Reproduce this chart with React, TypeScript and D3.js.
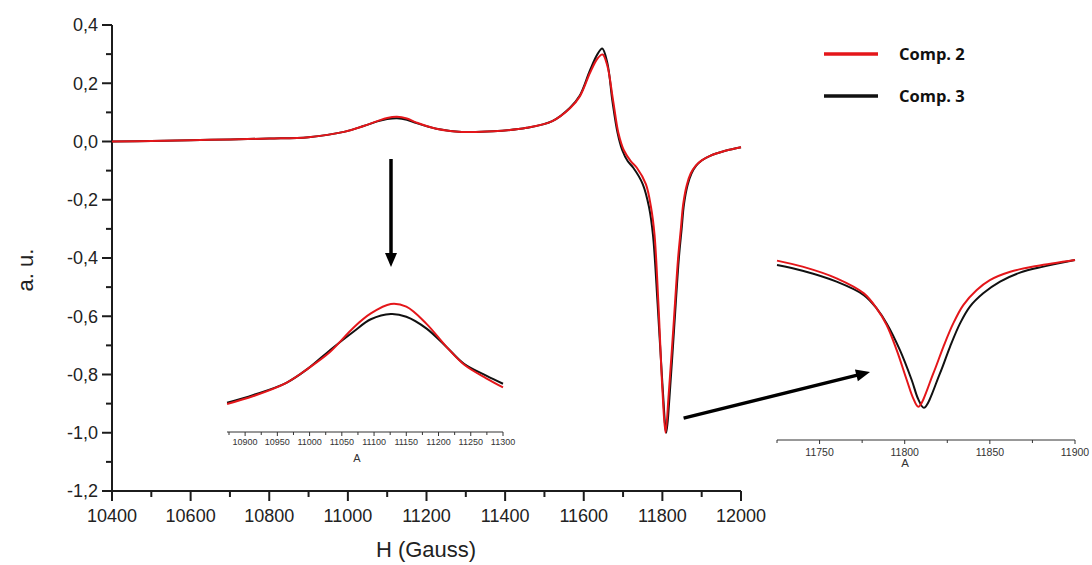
import React from "react";
import * as d3 from "d3";

// Field sweep (Gauss) and derivative signal (a.u.) for the two components
const mainField = [10400, 10500, 10650, 10800, 10900, 10990, 11040, 11075, 11100, 11125, 11150, 11175, 11225, 11290, 11370, 11455, 11520, 11565, 11590, 11616, 11635, 11648, 11660, 11675, 11688, 11702, 11720, 11735, 11758, 11771, 11780, 11790, 11800, 11808, 11816, 11828, 11840, 11847, 11853, 11862, 11872, 11885, 11900, 11920, 11960, 12000];
const comp2Main = [0.0, 0.002, 0.006, 0.01, 0.015, 0.033, 0.053, 0.07, 0.081, 0.085, 0.079, 0.065, 0.044, 0.033, 0.035, 0.047, 0.07, 0.114, 0.155, 0.236, 0.285, 0.299, 0.26, 0.138, 0.03, -0.03, -0.068, -0.09, -0.146, -0.225, -0.32, -0.56, -0.85, -1.0, -0.87, -0.64, -0.4, -0.3, -0.215, -0.15, -0.11, -0.083, -0.065, -0.05, -0.032, -0.02];

const comp3Field = [10400, 10500, 10650, 10800, 10900, 10990, 11040, 11075, 11100, 11125, 11150, 11175, 11225, 11290, 11370, 11455, 11520, 11565, 11590, 11616, 11635, 11647, 11660, 11673, 11686, 11698, 11712, 11726, 11750, 11766, 11776, 11788, 11800, 11810, 11818, 11830, 11842, 11849, 11855, 11864, 11874, 11886, 11900, 11920, 11960, 12000];
const comp3Main = [0.0, 0.002, 0.006, 0.01, 0.015, 0.033, 0.053, 0.069, 0.077, 0.08, 0.075, 0.063, 0.044, 0.033, 0.035, 0.047, 0.07, 0.116, 0.158, 0.245, 0.3, 0.319, 0.27, 0.138, 0.03, -0.03, -0.068, -0.09, -0.146, -0.225, -0.32, -0.56, -0.83, -1.0, -0.88, -0.64, -0.4, -0.3, -0.215, -0.15, -0.11, -0.083, -0.065, -0.05, -0.032, -0.02];

// Inset A: detail of the low-field line
const insetAField = [10872, 10913, 10964, 10998, 11032, 11068, 11095, 11126, 11150, 11181, 11212, 11240, 11274, 11300];
const comp2InsetA = [0.014, 0.0199, 0.0297, 0.0404, 0.0527, 0.0705, 0.081, 0.088, 0.086, 0.0735, 0.0565, 0.043, 0.033, 0.0263];
const comp3InsetA = [0.0149, 0.0207, 0.0297, 0.0404, 0.054, 0.0675, 0.0767, 0.0806, 0.0786, 0.07, 0.0564, 0.0435, 0.035, 0.029];
const insetATicks = [10900, 10950, 11000, 11050, 11100, 11150, 11200, 11250, 11300];

// Inset B: detail of the high-field minimum
const comp2InsetBField = [11725, 11740, 11760, 11776, 11783.5, 11789.4, 11795.3, 11801.2, 11805, 11808, 11816.8, 11822.7, 11828.5, 11834.4, 11842.3, 11850, 11862, 11877.5, 11900];
const comp2InsetB = [-0.074, -0.112, -0.186, -0.281, -0.376, -0.481, -0.64, -0.829, -0.945, -0.998, -0.787, -0.619, -0.471, -0.355, -0.26, -0.197, -0.144, -0.108, -0.07];
const comp3InsetBField = [11725, 11740, 11760, 11776, 11783.5, 11789.4, 11797.2, 11804.1, 11808, 11811.3, 11820.7, 11826.6, 11832.5, 11838.3, 11846.1, 11856, 11867.7, 11881.4, 11900];
const comp3InsetB = [-0.102, -0.138, -0.207, -0.292, -0.376, -0.471, -0.64, -0.829, -0.952, -1.005, -0.787, -0.619, -0.471, -0.365, -0.281, -0.207, -0.15, -0.112, -0.07];
const insetBTicks = [11750, 11800, 11850, 11900];

const seriesNames = ["Comp. 2", "Comp. 3"];
const yTicks = [0.4, 0.2, 0.0, -0.2, -0.4, -0.6, -0.8, -1.0, -1.2];
const xTicks = [10400, 10600, 10800, 11000, 11200, 11400, 11600, 11800, 12000];

const RED = "#e4161a";
const BLACK = "#111111";
const AXIS = "#1c1c1c";
const FONT = "'Liberation Sans', Arial, sans-serif";

const fmt = (v: number) => v.toFixed(1).replace(".", ",");

type Pt = [number, number];
const zip = (xs: number[], ys: number[]): Pt[] => xs.map((x, i) => [x, ys[i]]);

export default function App() {
  const W = 1092;
  const H = 565;

  const x = d3.scaleLinear().domain([10400, 12000]).range([112, 741]);
  const y = d3.scaleLinear().domain([-1.2, 0.4]).range([491, 25]);

  const xA = d3.scaleLinear().domain([10875, 11300]).range([229, 503]);
  const yA = d3.scaleLinear().domain([0.014, 0.088]).range([404, 304]);

  const xB = d3.scaleLinear().domain([11725, 11900]).range([777, 1075]);
  const yB = d3.scaleLinear().domain([-1.0, -0.07]).range([407, 260]);

  const mk = (sx: d3.ScaleLinear<number, number>, sy: d3.ScaleLinear<number, number>) =>
    d3
      .line<Pt>()
      .x((d) => sx(d[0]))
      .y((d) => sy(d[1]))
      .curve(d3.curveCatmullRom.alpha(0.5));

  const lineMain = mk(x, y);
  const lineA = mk(xA, yA);
  const lineB = mk(xB, yB);

  const yMinor = d3.range(-1.1, 0.4, 0.2);
  const xMinor = d3.range(10500, 12000, 200);
  const aMinor = d3.range(10875, 11300, 50);
  const bMinor = d3.range(11725, 11900, 50);

  return (
    <svg
      width={W}
      height={H}
      viewBox={`0 0 ${W} ${H}`}
      style={{ position: "absolute", left: 0, top: 0, background: "#fff" }}
      fontFamily={FONT}
    >
      <rect x={0} y={0} width={W} height={H} fill="#fff" />

      {/* main axes */}
      <line x1={x(10400)} x2={x(10400)} y1={y(0.4)} y2={y(-1.2)} stroke={AXIS} strokeWidth={2} />
      <line x1={x(10400)} x2={x(12000)} y1={y(-1.2)} y2={y(-1.2)} stroke={AXIS} strokeWidth={2} />
      {yTicks.map((t) => (
        <g key={"yt" + t}>
          <line x1={x(10400) - 10} x2={x(10400)} y1={y(t)} y2={y(t)} stroke={AXIS} strokeWidth={2} />
          <text x={x(10400) - 14} y={y(t)} dy="0.35em" textAnchor="end" fontSize={18} fill="#222">
            {fmt(t)}
          </text>
        </g>
      ))}
      {yMinor.map((t) => (
        <line key={"ym" + t} x1={x(10400) - 6} x2={x(10400)} y1={y(t)} y2={y(t)} stroke={AXIS} strokeWidth={2} />
      ))}
      {xTicks.map((t) => (
        <g key={"xt" + t}>
          <line x1={x(t)} x2={x(t)} y1={y(-1.2)} y2={y(-1.2) + 10} stroke={AXIS} strokeWidth={2} />
          <text x={x(t)} y={522} textAnchor="middle" fontSize={18} fill="#222">
            {t}
          </text>
        </g>
      ))}
      {xMinor.map((t) => (
        <line key={"xm" + t} x1={x(t)} x2={x(t)} y1={y(-1.2)} y2={y(-1.2) + 6} stroke={AXIS} strokeWidth={2} />
      ))}
      <text x={426} y={557} textAnchor="middle" fontSize={22} fill="#222">
        H (Gauss)
      </text>
      <text transform="translate(33,270) rotate(-90)" textAnchor="middle" fontSize={22} fill="#222">
        a. u.
      </text>

      {/* main spectra */}
      <path d={lineMain(zip(comp3Field, comp3Main)) || ""} fill="none" stroke={BLACK} strokeWidth={2} />
      <path d={lineMain(zip(mainField, comp2Main)) || ""} fill="none" stroke={RED} strokeWidth={2} />

      {/* legend */}
      <line x1={824} x2={878} y1={54} y2={54} stroke={RED} strokeWidth={3.5} />
      <text x={899} y={60} fontSize={16.5} fontWeight="bold" fontFamily="'Open Sans', sans-serif" fill="#111">
        {seriesNames[0]}
      </text>
      <line x1={824} x2={878} y1={96} y2={96} stroke={BLACK} strokeWidth={3.5} />
      <text x={899} y={102} fontSize={16.5} fontWeight="bold" fontFamily="'Open Sans', sans-serif" fill="#111">
        {seriesNames[1]}
      </text>

      {/* inset A */}
      <path d={lineA(zip(insetAField, comp3InsetA)) || ""} fill="none" stroke={BLACK} strokeWidth={2} />
      <path d={lineA(zip(insetAField, comp2InsetA)) || ""} fill="none" stroke={RED} strokeWidth={2} />
      <line x1={227} x2={xA(11300)} y1={432} y2={432} stroke="#333" strokeWidth={1} />
      {insetATicks.map((t) => (
        <g key={"at" + t}>
          <line x1={xA(t)} x2={xA(t)} y1={432} y2={436} stroke="#333" strokeWidth={1} />
          <text x={xA(t)} y={445} textAnchor="middle" fontSize={9} fill="#333">
            {t}
          </text>
        </g>
      ))}
      {aMinor.map((t) => (
        <line key={"am" + t} x1={xA(t)} x2={xA(t)} y1={432} y2={435} stroke="#333" strokeWidth={1} />
      ))}
      <text x={357} y={462} textAnchor="middle" fontSize={11} fill="#333">
        A
      </text>

      {/* inset B */}
      <path d={lineB(zip(comp3InsetBField, comp3InsetB)) || ""} fill="none" stroke={BLACK} strokeWidth={2} />
      <path d={lineB(zip(comp2InsetBField, comp2InsetB)) || ""} fill="none" stroke={RED} strokeWidth={2} />
      <line x1={xB(11725)} x2={xB(11900)} y1={440} y2={440} stroke="#333" strokeWidth={1} />
      {insetBTicks.map((t) => (
        <g key={"bt" + t}>
          <line x1={xB(t)} x2={xB(t)} y1={440} y2={444} stroke="#333" strokeWidth={1} />
          <text x={xB(t)} y={456} textAnchor="middle" fontSize={10.5} fill="#333">
            {t}
          </text>
        </g>
      ))}
      {bMinor.map((t) => (
        <line key={"bm" + t} x1={xB(t)} x2={xB(t)} y1={440} y2={443} stroke="#333" strokeWidth={1} />
      ))}
      <text x={905} y={467} textAnchor="middle" fontSize={11.5} fill="#333">
        A
      </text>

      {/* arrows pointing to the insets */}
      <line x1={391} x2={391} y1={159} y2={254} stroke="#000" strokeWidth={3.5} />
      <polygon points="385,253 397,253 391,267" fill="#000" />
      <g transform={`translate(870,372) rotate(${(Math.atan2(418 - 372, 684 - 870) * 180) / Math.PI})`}>
        <line x1={12} x2={192} y1={0} y2={0} stroke="#000" strokeWidth={3.5} />
        <polygon points="0,0 14,-6 14,6" fill="#000" />
      </g>
    </svg>
  );
}
